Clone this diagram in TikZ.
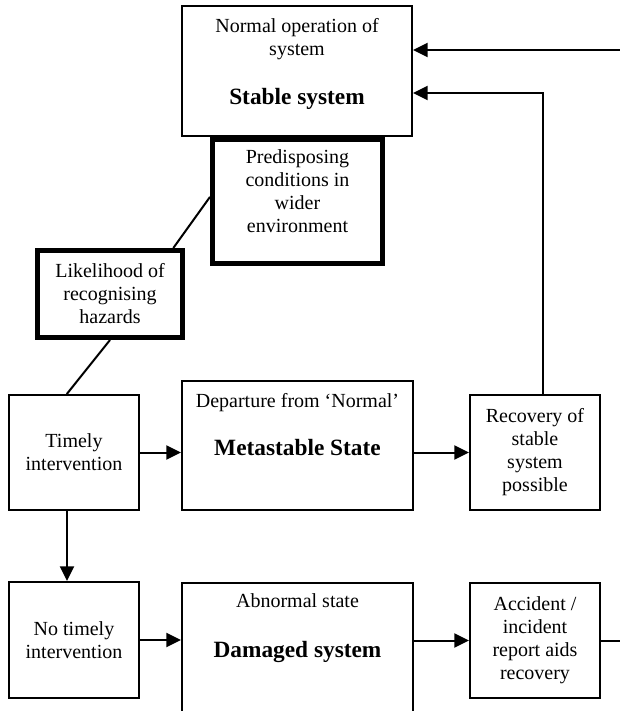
\documentclass[tikz,border=0pt]{standalone}
\usepackage{fontspec}
\setmainfont{Liberation Serif}
\usetikzlibrary{arrows.meta,positioning}
\tikzset{
  plainbox/.style={draw, line width=1.5pt, align=center, inner sep=2pt},
  heavybox/.style={draw, line width=3.75pt, align=center, inner sep=2pt},
  smallbox/.style={plainbox, minimum width=97.5pt, minimum height=86.25pt},
  statebox/.style={plainbox, minimum width=173.25pt, minimum height=97.5pt},
  caption/.style={align=center, inner sep=0pt},
  statename/.style={inner sep=0pt, font=\fontsize{17.5}{20}\selectfont\bfseries},
  arrow/.style={-{Triangle[length=11pt,width=10.5pt]}, line width=1.5pt},
  link/.style={line width=1.5pt}
}

\begin{document}
\begin{tikzpicture}[x=0.75pt, y=-0.75pt, every node/.style={font=\fontsize{15}{17.25}\selectfont}]
  \useasboundingbox (0,0) rectangle (620,711);

  % top: stable system
  \node[statebox, minimum width=172.5pt] (stable) at (297,71) {};
  \node[caption, anchor=north] (stablecap) at (297,18) {Normal operation of\\system};
  \node[statename, anchor=base] (stablename) at (297,104) {Stable system};

  \node[heavybox, minimum width=127.5pt, minimum height=93pt] (predisp) at (297.5,201.5) {};
  \node[caption, anchor=north] (predispcap) at (297.5,149) {Predisposing\\conditions in\\wider\\environment};
  \node[heavybox, minimum width=108.75pt, minimum height=65.25pt] (hazards) at (110,294) {Likelihood of\\recognising\\hazards};

  % middle row
  \node[smallbox] (timely) at (74,452.5) {Timely\\intervention};
  \node[statebox, minimum height=96.75pt] (meta) at (297.5,445.5) {};
  \node[caption, anchor=north] (metacap) at (297.5,393) {Departure from ‘Normal’};
  \node[statename, anchor=base] (metaname) at (297.5,455) {Metastable State};
  \node[smallbox] (recovery) at (535,452.5) {Recovery of\\stable\\system\\possible};

  % bottom row
  \node[smallbox, minimum height=87pt] (notimely) at (74,640) {No timely\\intervention};
  \node[statebox] (damaged) at (297.5,648) {};
  \node[caption, anchor=north] (damagedcap) at (297.5,593) {Abnormal state};
  \node[statename, anchor=base] (damagedname) at (297.5,657) {Damaged system};
  \node[smallbox] (accident) at (535,640.5) {Accident /\\incident\\report aids\\recovery};

  \coordinate (feedin) at (620,50);
  \coordinate (feedout) at (620,640);

  \draw[arrow] (feedin) -- (feedin -| stable.east);
  \draw[arrow] ([xshift=6pt]recovery.north) |- ([yshift=-16.5pt]stable.east);
  \draw[link] (predisp.177) -- (hazards.36);
  \draw[link] (hazards.south) -- (timely.97);
  \draw[arrow] (timely.east) -- (timely.east -| meta.west);
  \draw[arrow] (recovery.west -| meta.east) -- (recovery.west);
  \draw[arrow] ([xshift=-5.25pt]timely.south) -- ([xshift=-5.25pt]notimely.north);
  \draw[arrow] (notimely.east) -- (notimely.east -| damaged.west);
  \draw[arrow] (accident.west -| damaged.east) -- (accident.west);
  \draw[link] (accident.east) -- (accident.east -| feedout);
\end{tikzpicture}
\end{document}
